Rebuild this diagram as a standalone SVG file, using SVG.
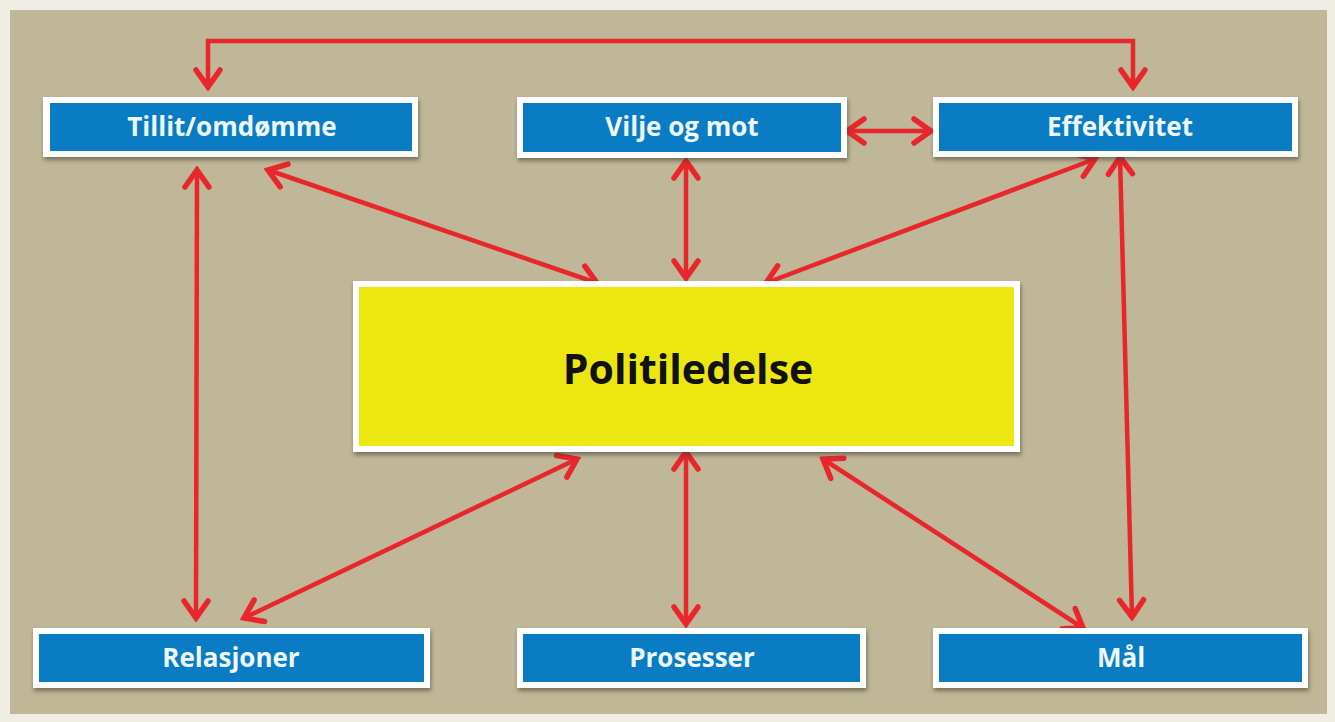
<svg xmlns="http://www.w3.org/2000/svg" width="1335" height="722" viewBox="0 0 1335 722">
  <defs>
    <style>
      .frame { fill: #f0ede4; }
      .panel { fill: #bfb797; }
      .box-outer { fill: #ffffff; }
      .box-blue { fill: #0a7cc4; }
      .box-yellow { fill: #ece611; }
      .lbl { font-family: "Open Sans", "Liberation Sans", sans-serif; font-weight: bold; font-size: 26px; fill: #eef8fc; text-anchor: middle; }
      .title { font-family: "Open Sans", "Liberation Sans", sans-serif; font-weight: bold; font-size: 41px; fill: #111111; text-anchor: middle; }
      .link { fill: none; stroke: #e8262c; stroke-width: 4.5; }
    </style>
    <marker id="head" viewBox="-24 -16 28 32" refX="0" refY="0" markerWidth="28" markerHeight="32" markerUnits="userSpaceOnUse" orient="auto-start-reverse">
      <path d="M -17 -12 L 0 0 L -17 12" fill="none" stroke="#e8262c" stroke-width="5.5" stroke-linecap="round" stroke-linejoin="miter"/>
    </marker>
    <filter id="shadow" x="-5%" y="-20%" width="110%" height="150%">
      <feDropShadow dx="1" dy="3" stdDeviation="2" flood-color="#3a3525" flood-opacity="0.55"/>
    </filter>
  </defs>

  <!-- background -->
  <rect class="frame" x="0" y="0" width="1335" height="722"/>
  <rect class="panel" x="10" y="10" width="1317" height="704"/>

  <!-- connectors -->
  <g id="connectors">
    <polyline class="link" points="208,87 208,41 1133,41 1133,87" marker-start="url(#head)" marker-end="url(#head)"/>
    <line class="link" x1="847" y1="131" x2="931" y2="131" marker-start="url(#head)" marker-end="url(#head)"/>
    <line class="link" x1="268" y1="170" x2="597" y2="283" marker-start="url(#head)" marker-end="url(#head)"/>
    <line class="link" x1="686" y1="161" x2="686" y2="278" marker-start="url(#head)" marker-end="url(#head)"/>
    <line class="link" x1="1095" y1="159" x2="766" y2="283" marker-start="url(#head)" marker-end="url(#head)"/>
    <line class="link" x1="197" y1="170" x2="196" y2="618" marker-start="url(#head)" marker-end="url(#head)"/>
    <line class="link" x1="1120" y1="157" x2="1132" y2="617" marker-start="url(#head)" marker-end="url(#head)"/>
    <line class="link" x1="577" y1="459" x2="244" y2="618" marker-start="url(#head)" marker-end="url(#head)"/>
    <line class="link" x1="686" y1="452" x2="686" y2="624" marker-start="url(#head)" marker-end="url(#head)"/>
    <line class="link" x1="823" y1="459" x2="1083" y2="628" marker-start="url(#head)" marker-end="url(#head)"/>
  </g>

  <!-- nodes -->
  <g id="node-tillit">
    <rect class="box-outer" x="43" y="97" width="375" height="60" filter="url(#shadow)"/>
    <rect class="box-blue" x="50" y="103" width="362" height="48"/>
    <text class="lbl" x="232" y="136">Tillit/omdømme</text>
  </g>
  <g id="node-vilje">
    <rect class="box-outer" x="517" y="97" width="330" height="61" filter="url(#shadow)"/>
    <rect class="box-blue" x="523" y="103" width="318" height="49"/>
    <text class="lbl" x="682" y="136">Vilje og mot</text>
  </g>
  <g id="node-effektivitet">
    <rect class="box-outer" x="933" y="97" width="365" height="60" filter="url(#shadow)"/>
    <rect class="box-blue" x="939" y="103" width="353" height="48"/>
    <text class="lbl" x="1120" y="136">Effektivitet</text>
  </g>
  <g id="node-politiledelse">
    <rect class="box-outer" x="353" y="281" width="667" height="171" filter="url(#shadow)"/>
    <rect class="box-yellow" x="359" y="287" width="655" height="159"/>
    <text class="title" x="688" y="384">Politiledelse</text>
  </g>
  <g id="node-relasjoner">
    <rect class="box-outer" x="33" y="628" width="397" height="60" filter="url(#shadow)"/>
    <rect class="box-blue" x="39" y="634" width="385" height="48"/>
    <text class="lbl" x="231" y="667">Relasjoner</text>
  </g>
  <g id="node-prosesser">
    <rect class="box-outer" x="517" y="628" width="349" height="60" filter="url(#shadow)"/>
    <rect class="box-blue" x="523" y="634" width="337" height="48"/>
    <text class="lbl" x="692" y="667">Prosesser</text>
  </g>
  <g id="node-maal">
    <rect class="box-outer" x="933" y="628" width="375" height="60" filter="url(#shadow)"/>
    <rect class="box-blue" x="939" y="634" width="363" height="48"/>
    <text class="lbl" x="1121" y="667">Mål</text>
  </g>
</svg>
